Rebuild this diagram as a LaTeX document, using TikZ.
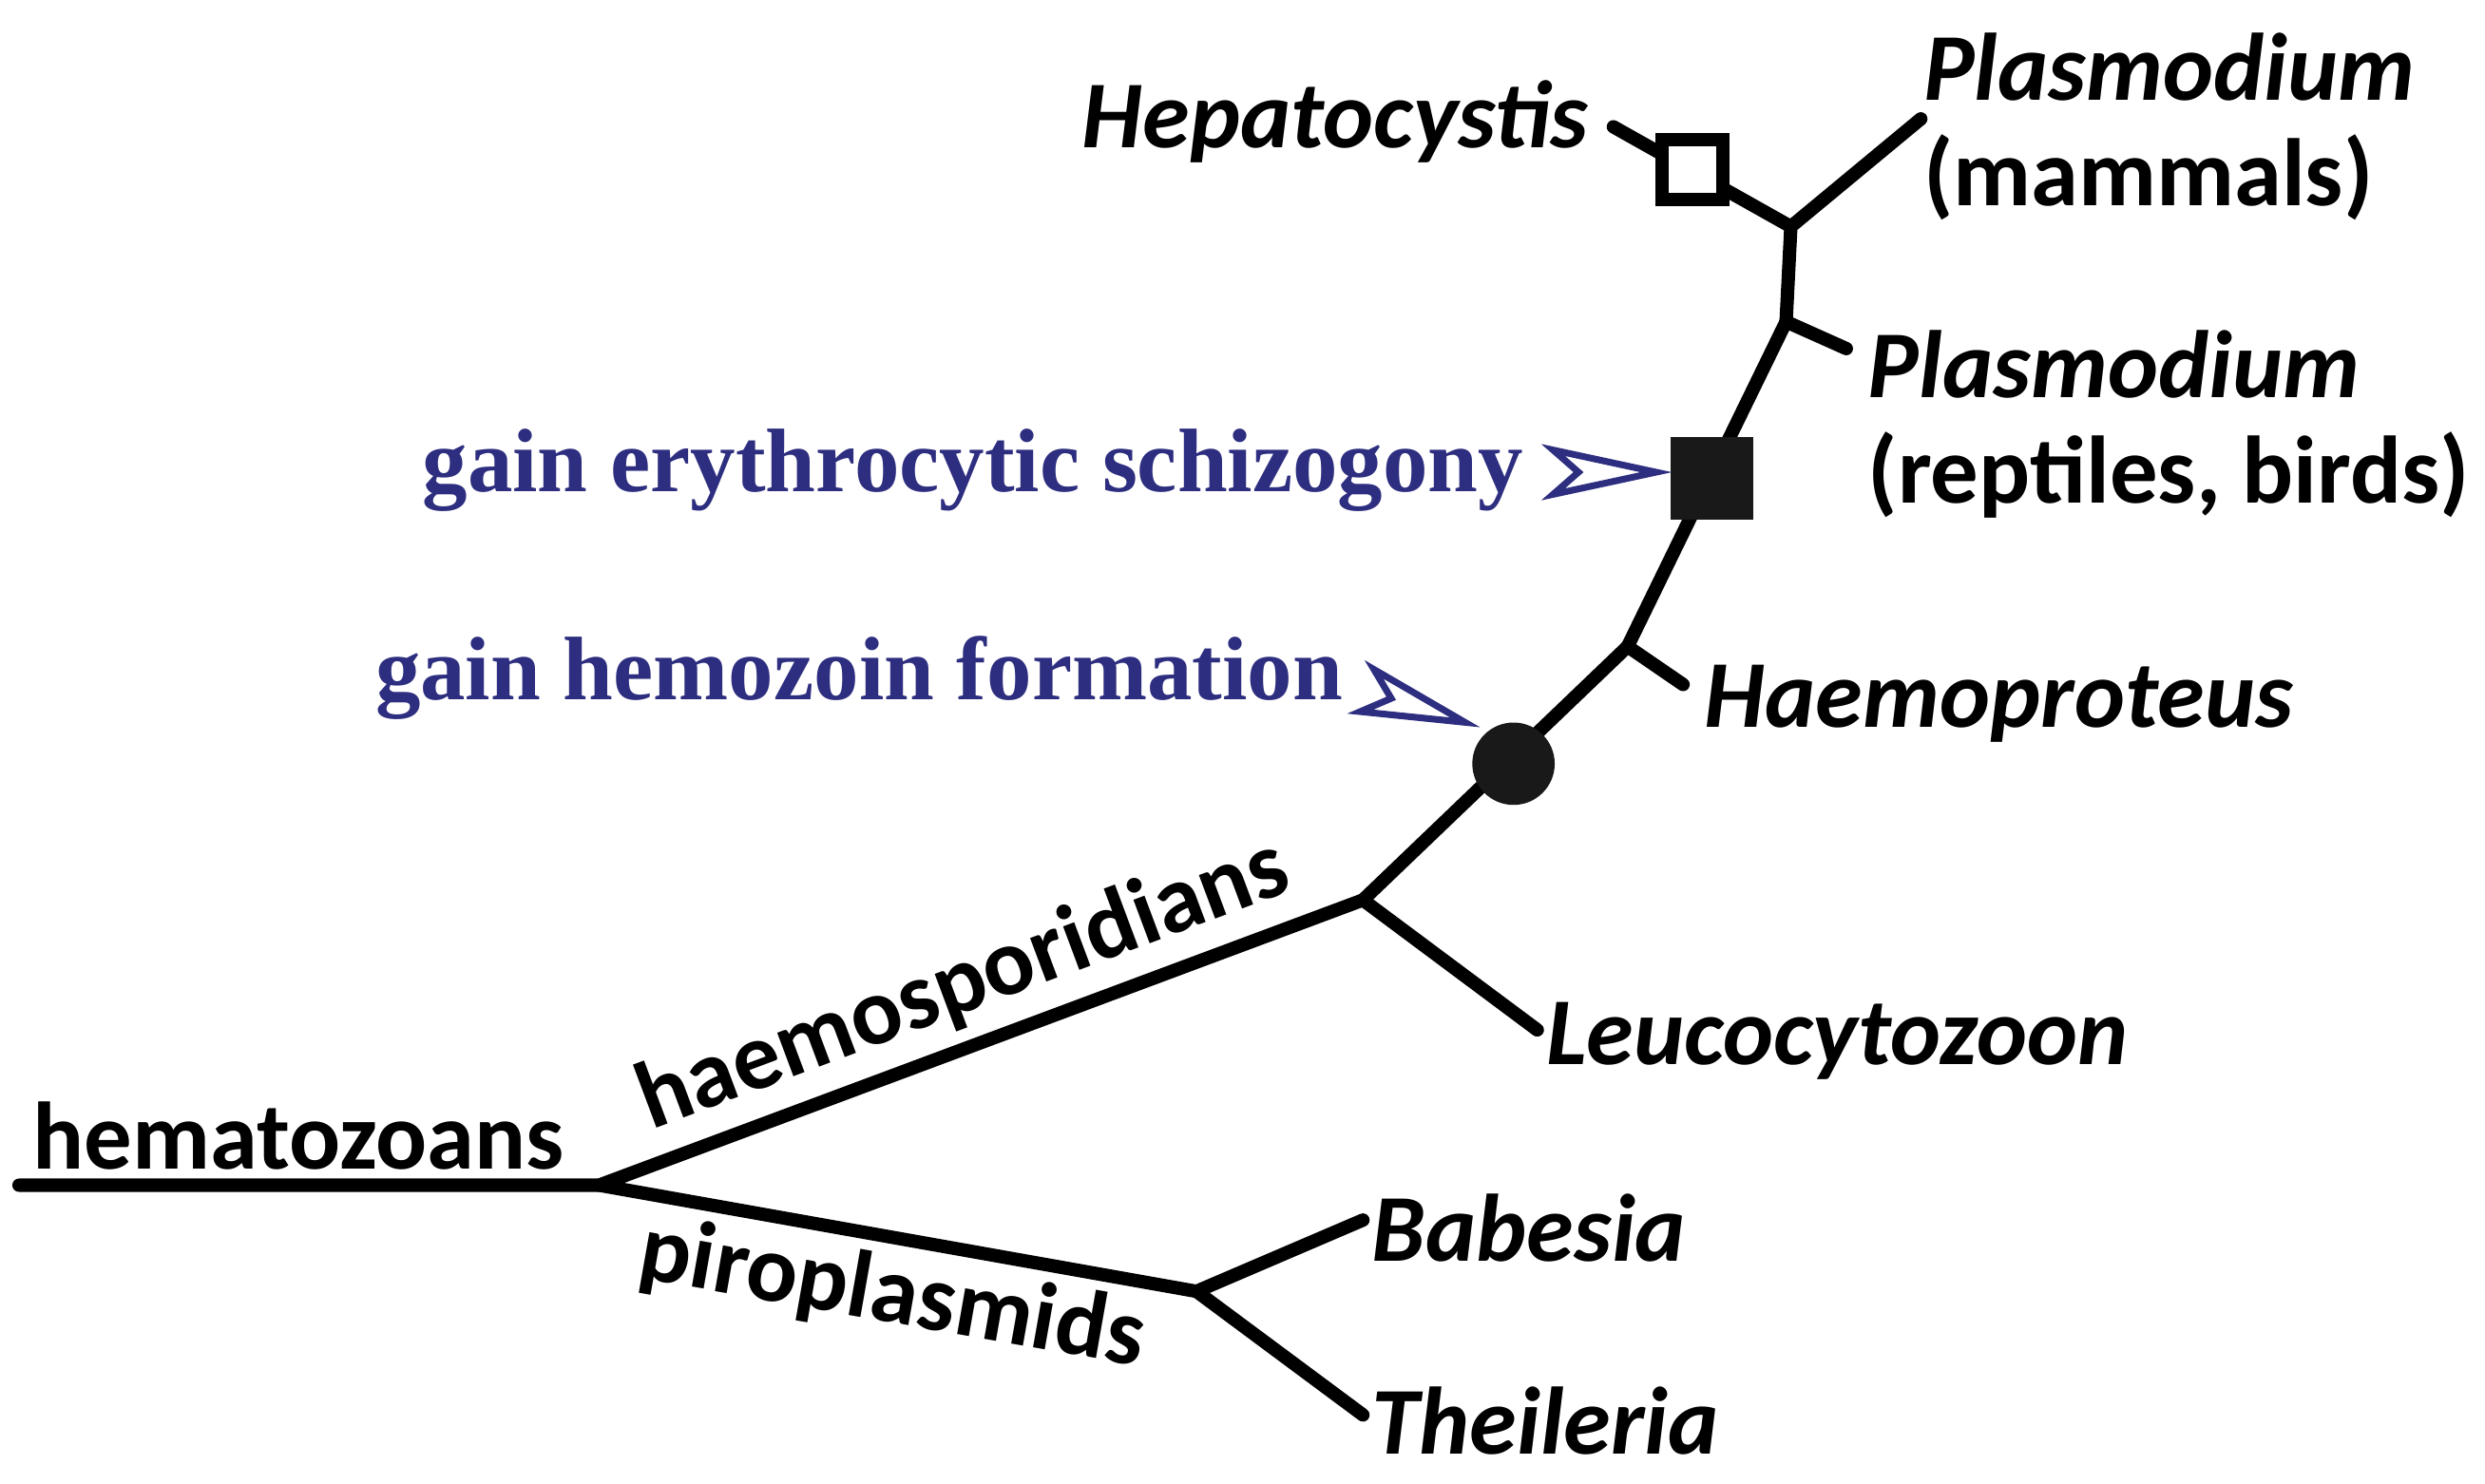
\documentclass[tikz,border=0pt]{standalone}
\usepackage{fontspec}
\setmainfont{Carlito}
\newfontfamily\serifb{Liberation Serif}
\definecolor{navy}{HTML}{2E2E80}
\begin{document}
\begin{tikzpicture}[x=0.1mm,y=-0.1mm,
  br/.style={line width=2.4pt,line cap=round,line join=round},
  lab/.style={font=\fontsize{17.2}{19}\selectfont\bfseries\itshape,inner sep=0pt},
  labu/.style={font=\fontsize{17.2}{19}\selectfont\bfseries,inner sep=0pt},
  gain/.style={font=\serifb\fontsize{16.2}{18}\selectfont\bfseries,text=navy,inner sep=0pt},
  chev/.style={draw=navy,line width=1.2pt,fill=white,line join=miter}]
\useasboundingbox (0,0) rectangle (1568,936);
\coordinate (start) at (12,748);
\coordinate (root) at (378,748);
\coordinate (hs) at (860,568);
\coordinate (pp) at (755,815);
\coordinate (bab) at (860,770);
\coordinate (the) at (860,893);
\coordinate (leu) at (970,650);
\coordinate (hp) at (1027,408);
\coordinate (hpt) at (1062,432);
\coordinate (pr) at (1127,203);
\coordinate (prt) at (1165,220);
\coordinate (pm) at (1130,143);
\coordinate (pmt) at (1212,75);
\coordinate (hct) at (1018,80);
\draw[br] (start)--(root)--(hs)--(leu);
\draw[br] (root)--(pp)--(bab); \draw[br] (pp)--(the);
\draw[br] (hs)--(hp)--(hpt);
\draw[br] (hp)--(pr)--(prt);
\draw[br] (pr)--(pm)--(pmt);
\draw[br] (pm)--(hct);
\node[circle,fill=black!90,inner sep=0pt,minimum size=5.2mm] (circ) at (955,482) {};
\node[fill=black!90,minimum size=5.2mm,inner sep=0pt] (fsq) at (1080,302) {};
\node[draw,line width=2.4pt,fill=white,minimum size=3.8mm,inner sep=0pt] (osq) at (1068,107) {};
\node[lab,anchor=east] (hep) at (1003,77) {Hepatocystis};
\node[lab,anchor=west] (pl1) at (1213,42) {Plasmodium};
\node[labu,anchor=west] (pl1b) at (1213,112) {(mammals)};
\node[lab,anchor=west] (pl2) at (1178,230) {Plasmodium};
\node[labu,anchor=west] (pl2b) at (1178,300) {(reptiles, birds)};
\node[lab,anchor=west] (hae) at (1075,444) {Haemoproteus};
\node[lab,anchor=west] (leuc) at (975,657) {Leucocytozoon};
\node[lab,anchor=west] (babl) at (865,775) {Babesia};
\node[lab,anchor=west] (thel) at (865,897) {Theileria};
\node[labu,anchor=west] (hem) at (20,717) {hematozoans};
\node[labu,rotate=20.5] (hsl) at (608,622) {haemosporidians};
\node[labu,rotate=-10] (ppl) at (563,818) {piroplasmids};
\node[gain,anchor=east] (g1) at (962,297) {gain erythrocytic schizogony};
\node[gain,anchor=east] (g2) at (848,428) {gain hemozoin formation};
\draw[chev] (980,284)--(1045,298)--(980,312)--(996,298)--cycle;
\begin{scope}[shift={(894,446)},rotate=-18]
\draw[chev] (-33,-14)--(32,0)--(-33,14)--(-17,0)--cycle;
\end{scope}
\end{tikzpicture}
\end{document}
